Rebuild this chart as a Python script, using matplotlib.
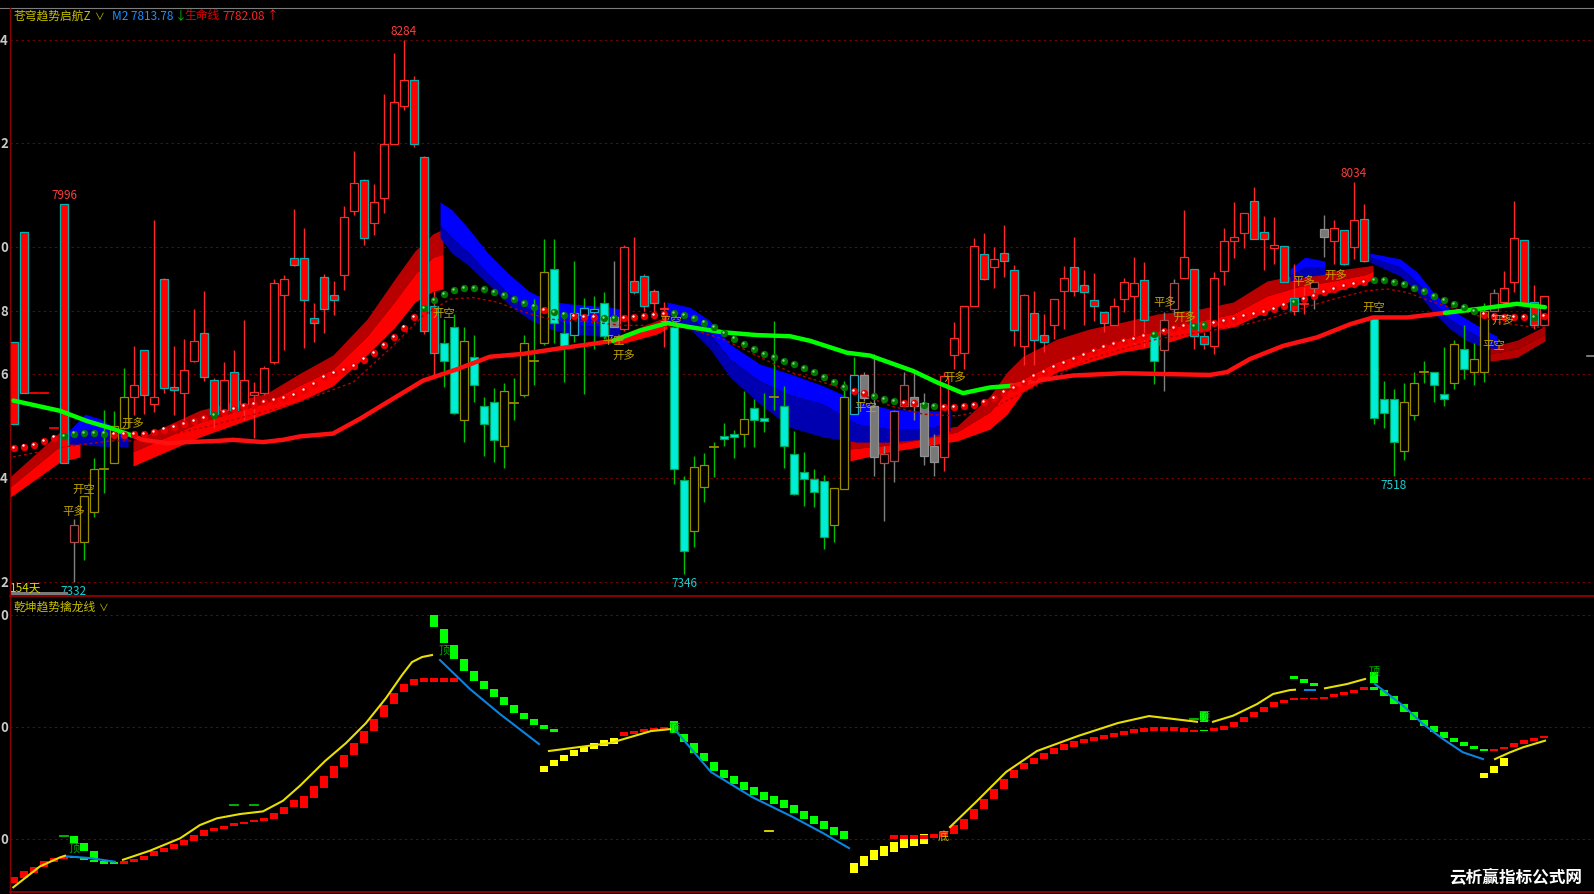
import matplotlib
matplotlib.use("Agg")
import matplotlib.pyplot as plt
from matplotlib.patches import Rectangle
from matplotlib.lines import Line2D
from matplotlib.transforms import offset_copy

plt.rcParams['font.family'] = ['Noto Sans CJK SC', 'DejaVu Sans']
plt.rcParams['axes.unicode_minus'] = False

# ------------------------------------------------------------------ data
OPEN = [7752, 7947, 7664, 7664, 7602, 7996, 7401, 7401, 7455, 7530,
        7540, 7602, 7656, 7739, 7644, 7864, 7673, 7663, 7720, 7768,
        7686, 7633, 7701, 7644, 7660, 7663, 7717, 7836, 7901, 7901,
        7795, 7867, 7835, 7870, 7983, 8038, 7962, 8006, 8101, 8168,
        8213, 8078, 7816, 7751, 7780, 7615, 7727, 7641, 7647, 7570,
        7646, 7660, 7720, 7751, 7881, 7768, 7765, 7800, 7805, 7822,
        7797, 7775, 7860, 7868, 7842, 7810, 7780, 7511, 7420, 7498,
        7568, 7588, 7591, 7591, 7637, 7620, 7656, 7641, 7556, 7525,
        7513, 7509, 7431, 7494, 7627, 7695, 7641, 7540, 7544, 7641,
        7657, 7646, 7571, 7550, 7730, 7734, 7817, 7907, 7884, 7910,
        7879, 7745, 7803, 7765, 7782, 7843, 7884, 7853, 7826, 7805,
        7782, 7829, 7833, 7862, 7764, 7738, 7811, 7866, 7881, 7764,
        7746, 7878, 7931, 7944, 8001, 7947, 7918, 7921, 7830, 7819,
        7847, 7951, 7931, 7950, 7919, 7969, 7796, 7653, 7653, 7562,
        7624, 7701, 7701, 7662, 7681, 7741, 7700, 7701, 7808, 7823,
        7859, 7932, 7823, 7782]
HIGH = [7752, 7947, 7665, 7665, 7603, 7996, 7442, 7482, 7549, 7634,
        7632, 7708, 7746, 7739, 7967, 7866, 7746, 7758, 7810, 7842,
        7690, 7717, 7738, 7792, 7682, 7710, 7863, 7870, 7986, 7953,
        7822, 7873, 7860, 7992, 8089, 8040, 8030, 8188, 8261, 8284,
        8220, 8080, 7843, 7793, 7802, 7780, 7766, 7656, 7672, 7681,
        7689, 7765, 7829, 7933, 7933, 7805, 7896, 7830, 7834, 7840,
        7896, 7923, 7937, 7872, 7846, 7823, 7786, 7518, 7553, 7558,
        7578, 7611, 7598, 7667, 7653, 7664, 7790, 7676, 7597, 7559,
        7530, 7519, 7496, 7685, 7726, 7700, 7732, 7571, 7634, 7701,
        7700, 7663, 7591, 7700, 7788, 7816, 7935, 7944, 7919, 7958,
        7888, 7837, 7843, 7802, 7829, 7887, 7938, 7880, 7874, 7805,
        7830, 7866, 7902, 7893, 7773, 7805, 7863, 7984, 7881, 7770,
        7875, 7953, 7998, 7980, 8026, 7974, 7972, 7921, 7890, 7849,
        7858, 7976, 7967, 7950, 8034, 7996, 7796, 7685, 7671, 7681,
        7700, 7720, 7701, 7744, 7756, 7782, 7751, 7822, 7846, 7878,
        8000, 7932, 7853, 7833]
LOW = [7609, 7663, 7663, 7663, 7601, 7541, 7332, 7369, 7445, 7488,
       7540, 7600, 7625, 7627, 7630, 7663, 7625, 7603, 7718, 7684,
       7602, 7630, 7628, 7615, 7584, 7660, 7715, 7739, 7886, 7742,
       7752, 7768, 7800, 7844, 7976, 7924, 7941, 7979, 8100, 8160,
       8095, 7767, 7691, 7674, 7627, 7578, 7647, 7553, 7542, 7532,
       7616, 7656, 7677, 7748, 7751, 7683, 7753, 7661, 7741, 7758,
       7779, 7772, 7838, 7808, 7802, 7744, 7503, 7346, 7393, 7471,
       7516, 7571, 7549, 7569, 7569, 7595, 7634, 7532, 7484, 7465,
       7463, 7389, 7401, 7494, 7627, 7650, 7518, 7439, 7507, 7641,
       7615, 7536, 7518, 7527, 7705, 7705, 7817, 7861, 7847, 7867,
       7746, 7713, 7713, 7735, 7759, 7776, 7834, 7782, 7790, 7771,
       7782, 7805, 7746, 7744, 7679, 7666, 7800, 7866, 7741, 7740,
       7732, 7853, 7900, 7918, 7933, 7880, 7890, 7859, 7800, 7802,
       7811, 7902, 7890, 7888, 7899, 7894, 7609, 7602, 7518, 7545,
       7615, 7681, 7647, 7641, 7671, 7687, 7677, 7682, 7808, 7814,
       7840, 7818, 7776, 7782]
CLOSE = [7609, 7663, 7664, 7664, 7602, 7541, 7431, 7482, 7530, 7530,
         7605, 7656, 7677, 7660, 7656, 7672, 7669, 7703, 7754, 7691,
         7627, 7686, 7633, 7686, 7665, 7707, 7856, 7864, 7889, 7826,
         7787, 7811, 7826, 7972, 8033, 7935, 7999, 8101, 8175, 8213,
         8100, 7773, 7734, 7720, 7629, 7754, 7677, 7609, 7581, 7667,
         7646, 7751, 7720, 7876, 7786, 7746, 7804, 7812, 7811, 7764,
         7779, 7919, 7841, 7816, 7822, 7813, 7529, 7386, 7533, 7536,
         7568, 7582, 7586, 7618, 7616, 7614, 7656, 7570, 7486, 7513,
         7490, 7411, 7496, 7656, 7695, 7654, 7550, 7556, 7631, 7677,
         7640, 7553, 7542, 7694, 7760, 7816, 7921, 7864, 7898, 7896,
         7774, 7835, 7757, 7753, 7829, 7866, 7843, 7841, 7817, 7786,
         7817, 7859, 7856, 7792, 7720, 7792, 7856, 7902, 7763, 7749,
         7866, 7931, 7937, 7980, 7933, 7933, 7923, 7859, 7808, 7819,
         7858, 7938, 7954, 7890, 7968, 7896, 7620, 7629, 7578, 7647,
         7681, 7701, 7677, 7653, 7749, 7705, 7723, 7808, 7839, 7847,
         7935, 7820, 7782, 7833]
# candle colouring state (U bull-up hollow red, D bull-down solid red,
# c bear-down cyan, o bear-up hollow, b hollow blue, G grey solid, g grey hollow)
STYLE = ("DDDDDDgooo" "ooUDUDDUUD" "DUDUUUUUDD" "DDDUUDUUUU" "DDDccoccco"
         "ooooccbbbc" "GUDDDUccoo" "occoccoccc" "ccoobGGggg" "GGGUUUUDUD"
         "DUDDUUDDDD" "UUUDcggUDD" "UUUUDDUDDU" "gGUDUDccco" "ooccocoogU" "UDDU")

# signal balls (one per bar) and their colour
BALL = [7567, 7569, 7572, 7579, 7585, 7588, 7592, 7593, 7593, 7592,
        7590, 7590, 7591, 7591, 7595, 7599, 7604, 7608, 7614, 7619,
        7625, 7630, 7635, 7640, 7643, 7647, 7650, 7654, 7660, 7669,
        7679, 7691, 7698, 7704, 7711, 7722, 7734, 7748, 7762, 7778,
        7796, 7812, 7826, 7837, 7844, 7848, 7847, 7846, 7841, 7835,
        7828, 7821, 7815, 7809, 7805, 7801, 7799, 7797, 7796, 7795,
        7795, 7795, 7797, 7798, 7800, 7802, 7803, 7800, 7795, 7787,
        7779, 7769, 7759, 7749, 7741, 7732, 7727, 7720, 7714, 7707,
        7700, 7691, 7683, 7674, 7667, 7663, 7658, 7653, 7649, 7646,
        7645, 7643, 7640, 7639, 7638, 7640, 7642, 7647, 7654, 7664,
        7672, 7683, 7692, 7700, 7709, 7716, 7723, 7730, 7737, 7744,
        7749, 7754, 7758, 7763, 7767, 7772, 7777, 7781, 7781, 7783,
        7786, 7790, 7793, 7798, 7802, 7806, 7811, 7817, 7823, 7828,
        7834, 7841, 7846, 7851, 7855, 7858, 7861, 7861, 7858, 7854,
        7848, 7842, 7834, 7827, 7819, 7814, 7807, 7801, 7799, 7796,
        7796, 7796, 7796, 7798]
BALL_COL = ("rrrrrggggg" "rrrrrrrrrr" "grrrrrrrrr" "rrrrrrrrrr" "rggggggggg"
            "gggrggrrrg" "grrrrrgggg" "gggggggggg" "ggggrrgggr" "rggrrrrrrr"
            "rrrrrrrrrr" "rrrrgrrrgg" "rrrrrrrrgr" "rrrrrrgggg" "gggggggrrr" "rrgr")

# thick trend line (生命线), read points with colour state
LIFE_IDX = [-0.07, 4.6, 7.3, 9.6, 11.9,
            12.9, 15.3, 17.3, 20.3, 21.9, 24.9, 26.9, 28.6, 31.9, 34.6, 37.6, 40.9,
            44.3, 47.6, 50.9, 54.3, 57.6, 59.9,
            62.6, 65.3, 67.6, 70.9, 74.3, 77.6, 79.6, 83.3, 85.6, 89.9, 92.3, 94.9, 97.6, 99.8,
            102.3, 105.9, 110.9, 119.6, 121.3, 123.6, 126.9, 130.3, 133.6, 135.9, 139.3, 143.1,
            146.9, 150.3, 153.1]
LIFE_VAL = [7650, 7632, 7614, 7602, 7588,
            7581, 7575, 7577, 7579, 7581, 7577, 7581, 7587, 7592, 7618, 7650, 7685,
            7705, 7727, 7732, 7741, 7749, 7755,
            7773, 7786, 7779, 7770, 7765, 7763, 7755, 7734, 7729, 7702, 7682, 7663, 7673, 7676,
            7685, 7694, 7698, 7695, 7700, 7723, 7746, 7761, 7784, 7796, 7796, 7804,
            7812, 7820, 7814]
LIFE_COL = "ggggg" + "r" * 18 + "g" * 14 + "r" * 12 + "ggg"

# thin dashed average
DASH_IDX = [-0.1, 5.6, 9.6, 12.9, 19, 28, 33.9, 37.6, 40.9, 43.6, 45.9, 48.3, 50.9,
            53.6, 57.6, 60.9, 64.3, 67.6, 70.9, 74.3, 77.6, 80.9, 84.3, 87.6, 90.9,
            94.3, 97.6, 100.9, 104.3, 107.6, 110.9, 114.3, 119.6, 121.9, 125.3, 128.6,
            131.9, 135.3, 137.3, 139.3, 141.9, 145.3, 148.6, 151.9, 153.3]
DASH_VAL = [7551, 7570, 7579, 7579, 7603, 7644, 7682, 7741, 7799, 7828, 7831, 7823, 7806,
            7793, 7788, 7782, 7782, 7776, 7758, 7729, 7700, 7682, 7664, 7641, 7626,
            7623, 7635, 7664, 7694, 7723, 7741, 7758, 7773, 7779, 7793, 7811,
            7828, 7843, 7846, 7840, 7823, 7805, 7787, 7779, 7779]

# ribbon segments: kind, x (bar index), top / middle / bottom edges
RIB_KIND = ['red', 'red', 'red', 'red', 'dred', 'blue', 'blue', 'blue', 'blue', 'blue']
RIB_IDX = [[-0.4, 4.6, 6.6],
           [11.9, 18.6, 25.3, 28.6, 31.9, 35.3, 38.1, 40.1, 41.9, 42.9],
           [59.8, 60.6, 64.3, 65.3],
           [83.6, 87.6, 92.6, 94.3, 97.6, 99.3, 100.9, 104.3, 107.6, 110.9, 114.3, 118.6,
            121.9, 125.3, 128.6, 131.9, 135.3, 135.9],
           [147.6, 150.3, 153.1],
           [5.4, 7.1, 8.6, 11.4],
           [42.6, 43.8, 45.4, 47.4, 49.4, 51.5, 53.5, 55.5, 59.6, 60.6],
           [65.3, 67.6, 69.6, 71.6, 74.6, 77.6, 80.9, 84.3, 87.6, 90.6, 93.6],
           [127.6, 129.1, 131.1],
           [135.6, 138.6, 140.3, 141.9, 143.6, 145.3, 146.9, 148.3]]
RIB_TOP = [[7516, 7595, 7596],
           [7579, 7633, 7663, 7698, 7730, 7793, 7864, 7913, 7943, 7951],
           [7758, 7765, 7791, 7797],
           [7582, 7586, 7600, 7605, 7658, 7700, 7728, 7758, 7776, 7788, 7802, 7811,
            7823, 7860, 7872, 7878, 7886, 7888],
           [7744, 7756, 7781],
           [7595, 7626, 7618, 7588],
           [7999, 7985, 7953, 7909, 7874, 7842, 7825, 7820, 7814, 7811],
           [7823, 7814, 7790, 7749, 7714, 7697, 7676, 7649, 7635, 7632, 7632],
           [7881, 7902, 7895],
           [7909, 7899, 7876, 7841, 7811, 7793, 7776, 7763]]
RIB_MID = [[7498, 7570, 7574],
           [7560, 7612, 7647, 7677, 7705, 7763, 7825, 7872, 7902, 7907],
           [7755, 7758, 7781, 7788],
           [7565, 7572, 7588, 7595, 7630, 7667, 7688, 7718, 7737, 7758, 7772, 7790,
            7802, 7834, 7851, 7860, 7872, 7878],
           [7732, 7741, 7767],
           [7585, 7600, 7595, 7578],
           [7958, 7936, 7911, 7874, 7839, 7811, 7793, 7785, 7779, 7776],
           [7807, 7797, 7767, 7723, 7684, 7660, 7644, 7609, 7600, 7600, 7609],
           [7870, 7885, 7884],
           [7902, 7885, 7858, 7823, 7793, 7774, 7758, 7749]]
RIB_BOT = [[7480, 7542, 7551],
           [7535, 7586, 7628, 7649, 7676, 7730, 7779, 7823, 7842, 7846],
           [7751, 7749, 7767, 7776],
           [7544, 7560, 7574, 7579, 7600, 7626, 7665, 7700, 7718, 7735, 7746, 7770,
            7779, 7807, 7832, 7841, 7858, 7864],
           [7719, 7726, 7755],
           [7574, 7572, 7570, 7568],
           [7936, 7909, 7888, 7855, 7820, 7793, 7776, 7767, 7762, 7756],
           [7790, 7776, 7741, 7691, 7644, 7603, 7586, 7577, 7577, 7582, 7596],
           [7860, 7867, 7872],
           [7893, 7869, 7841, 7806, 7776, 7755, 7744, 7741]]

# trade signal texts
SIG_IDX = [6.0, 7.0, 11.9, 43.0, 60.0, 61.0, 65.7, 85.2, 94.1, 115.1, 117.1, 129.0, 132.2, 136.0, 148.0, 148.9]
SIG_VAL = [7456, 7495, 7611, 7804, 7757, 7730, 7791, 7639, 7693, 7823, 7797, 7860, 7872, 7814, 7748, 7793]
SIG_TXT = ['平多', '开空', '开多', '开空', '平空', '开多', '平空', '平空', '开多', '平多', '开多',
           '平多', '开多', '开空', '平空', '开多']

# extreme price labels
EXT_BAR = [39, 5, 134, 67, 6, 138]
EXT_VAL = [8284, 7996, 8034, 7346, 7332, 7518]
EXT_IS_HIGH = [True, True, True, False, False, False]

MAIN_GRID = [8284, 8102, 7920, 7808, 7696, 7514, 7332]
LOW_GRID = [7900, 7800, 7700]

# lower panel (乾坤趋势擒龙线) blocks, one per bar
BLK_TOP = [7666, 7671, 7675, 7680, 7683, 7684.5, 7703, 7696.5, 7689, 7680.5,
           7679, 7680, 7682, 7685, 7689, 7692, 7695.4, 7699, 7703.5, 7708,
           7709.4, 7711.8, 7714, 7715.4, 7717, 7718.8, 7723, 7728.3, 7735, 7738.3,
           7747, 7756, 7765, 7775, 7785.6, 7796, 7807, 7819.5, 7830.3, 7838.3,
           7842.8, 7843.7, 7900, 7887.4, 7873, 7860.6, 7850, 7841, 7834, 7826.7,
           7819.5, 7812.4, 7807, 7801.7, 7798, 7775, 7779.4, 7783, 7785.6, 7788.3,
           7790, 7795.5, 7796.3, 7798, 7799, 7800, 7805.3, 7793.6, 7785.6, 7776.7,
           7768.6, 7761.5, 7756, 7750.8, 7746.3, 7741.9, 7738.3, 7734.7, 7730.2, 7724.8,
           7720.4, 7716, 7710.6, 7707, 7678.6, 7684.7, 7690, 7693.6, 7697.2, 7700.8,
           7702.6, 7704.4, 7704, 7707, 7712, 7717.7, 7726.7, 7735.6, 7744.5, 7753.5,
           7761.5, 7767.8, 7772.2, 7776.7, 7781.2, 7784.7, 7787.4, 7789.2, 7791, 7792.8,
           7794.5, 7796.3, 7798, 7799, 7800, 7800, 7800, 7799, 7797.5, 7814.4,
           7798.7, 7801, 7804.1, 7808.6, 7813.6, 7818, 7822, 7824.3, 7825.5, 7825.8,
           7826.1, 7827, 7829.4, 7831, 7833.2, 7835.9, 7849.3, 7833.2, 7827.9, 7820.4,
           7813, 7806.4, 7800.5, 7795.2, 7789.8, 7786.2, 7782.7, 7780.3, 7780.3, 7781.8,
           7785.6, 7788.6, 7790, 7791.9]
BLK_BOT = [7661, 7665, 7670, 7675, 7679, 7682, 7696, 7689, 7683, 7678,
           7677.6, 7677.6, 7679, 7681.4, 7684.5, 7688, 7691, 7694.5, 7698, 7703,
           7707.3, 7708.8, 7711.3, 7713, 7715, 7716, 7717.9, 7722.3, 7728.3, 7727.6,
           7736.5, 7745.4, 7754.4, 7764.2, 7775, 7785.6, 7796, 7808.8, 7820.4, 7831.2,
           7837.4, 7840, 7889.2, 7874.9, 7860.6, 7850, 7841, 7834, 7826.7, 7819.5,
           7812.4, 7807, 7801.7, 7798.1, 7795.5, 7769.5, 7774, 7777.6, 7780.3, 7783,
           7784.7, 7792, 7793.7, 7795.5, 7796.3, 7797.2, 7794.5, 7786.5, 7776.7, 7769.5,
           7760.6, 7754.4, 7749, 7743.6, 7739.2, 7734.7, 7731.1, 7727.6, 7723.1, 7717.7,
           7713.3, 7708.8, 7703.5, 7700, 7669.6, 7675.8, 7681.2, 7684.7, 7688.3, 7691.9,
           7693.6, 7695.4, 7701, 7702, 7704, 7708.8, 7717.7, 7726.7, 7735.6, 7744.5,
           7754.4, 7762.4, 7766.9, 7771.3, 7775.8, 7779.4, 7782, 7785.6, 7787.4, 7789.2,
           7791, 7792.8, 7794.5, 7795.4, 7796.3, 7796.3, 7796.3, 7795.4, 7795.7, 7804.6,
           7796.6, 7797.5, 7800.2, 7804.1, 7808.6, 7813, 7817.5, 7821.3, 7824, 7824.6,
           7825.2, 7825, 7826.4, 7828.5, 7830.5, 7832.9, 7839.2, 7827.9, 7820.4, 7813,
           7806.4, 7800.5, 7795.2, 7789.8, 7786.2, 7782.7, 7780.3, 7778.8, 7778.8, 7780.3,
           7781.8, 7784.7, 7787.6, 7789.8]
BLK_COL = ("rrrrrrgggg" "grrrrrrrrr" "rrrrrrrrrr" "rrrrrrrrrr" "rrgggggggg"
           "gggggyyyyy" "yrrrrrgggg" "gggggggggg" "ggggyyyyyy" "yyrrrrrrrr"
           "rrrrrrrrrr" "rrrrrrrrrg" "rrrrrrrrrr" "rrrrrrgggg" "ggggggggrr" "rrrr")
# secondary blocks
XB_IDX = [6, 7, 8, 42, 43, 44, 53, 54, 88, 89, 90, 91, 119, 128, 129, 130, 136, 147, 148, 149]
XB_TOP = [7684.5, 7684, 7681.4, 7843.7, 7843.7, 7843.7, 7765, 7770.5, 7703.5, 7703.5, 7703.5,
          7703.5, 7797.5, 7845.2, 7842.8, 7839.2, 7835.6, 7758.6, 7765.3, 7772.2]
XB_BOT = [7683, 7681.4, 7679.6, 7840, 7840, 7840, 7759.7, 7765, 7700, 7700, 7700,
          7700, 7796.6, 7842.8, 7839.2, 7836.3, 7833.2, 7754.4, 7758.6, 7764.8]
XB_COL = "gggrrryyrrrrgggggyyy"

# lower panel lines (segments)
LL_COLOR = ['y', 'b', 'y', 'b', 'y', 'b', 'y', 'y', 'b', 'y', 'b', 'y']
LL_IDX = [[-0.07, 2.6, 4.6, 5.1],
          [5.3, 7.6, 10.1],
          [10.9, 13.6, 16.6, 18.6, 20.3, 22.6, 24.9, 26.9, 28.6, 31.1, 33.2, 35.2, 37.2,
           38.8, 39.8, 40.8, 41.8],
          [42.6, 45.6, 48.6, 52.5],
          [53.5, 59.6, 63.7, 65.7],
          [66.2, 69.7, 73.8, 77.9, 80.9, 83.5],
          [93.6, 96.2, 99.2, 102.3, 106.4, 110.4, 113.5, 118.3],
          [119.9, 121.9, 124.3, 125.9, 127.6, 128.1],
          [129.1, 130.1],
          [131.1, 133.3, 135.1],
          [136.1, 138.9, 140.9, 142.9, 144.9, 146.9],
          [148.1, 149.6, 150.9, 153.1]]
LL_VAL = [[7656.8, 7675.5, 7683.5, 7685],
          [7684.4, 7682.9, 7679.6],
          [7681.4, 7689.5, 7700.5, 7712.4, 7718.4, 7722.2, 7724.6, 7734.1, 7747.5, 7769.5,
           7785.6, 7803.5, 7825.8, 7846.3, 7857.9, 7862.4, 7864.2],
          [7859.7, 7833.8, 7811.5, 7784.7],
          [7778.5, 7785.6, 7796.3, 7798.1],
          [7796.3, 7759.7, 7737.4, 7719.5, 7705.2, 7691.8],
          [7710.6, 7733, 7759.7, 7778.5, 7791.9, 7803.5, 7809.7, 7804.6],
          [7804.6, 7810, 7820.4, 7829.4, 7832.9, 7833.2],
          [7833.2, 7833.2],
          [7834.5, 7838.3, 7842.8],
          [7838.3, 7819, 7802.6, 7789.2, 7777.3, 7771.3],
          [7771.3, 7777.3, 7781.8, 7787.7]]
# short marks
MK_IDX = [5, 22, 24, 118, 75.5]
MK_VAL = [7703, 7730.5, 7730.5, 7807, 7707]
MK_COL = "ggggy"
# top / bottom words
TB_IDX = [6, 43, 66, 92.9, 119, 136]
TB_VAL = [7692, 7868.7, 7799, 7703.5, 7810, 7850]
TB_TXT = ['顶', '顶', '顶', '底', '顶', '顶']

assert len(OPEN) == len(HIGH) == len(LOW) == len(CLOSE) == len(STYLE) == 154
assert len(BALL) == len(BALL_COL) == 154
assert len(BLK_TOP) == len(BLK_BOT) == len(BLK_COL) == 154
assert len(LIFE_IDX) == len(LIFE_VAL) == len(LIFE_COL)

# ------------------------------------------------------------------ figure
W, H = 1594, 895
fig = plt.figure(figsize=(W / 100, H / 100), dpi=100, facecolor='black')


def fx(x):
    return x / W


def fy(y):
    return 1 - y / H


ax = fig.add_axes([fx(10), fy(597), (W - 10) / W, (597 - 9) / H])
ax2 = fig.add_axes([fx(10), fy(893), (W - 10) / W, (893 - 597) / H])
for a in (ax, ax2):
    a.set_facecolor('black')
    a.set_xlim(-0.4, 158.0)
    a.axis('off')
ax.set_ylim(7306.6, 8339.7)
ax2.set_ylim(7652.6, 7916.9)

GRIDC = '#7a0000'
for g in MAIN_GRID:
    ax.axhline(g, color=GRIDC, lw=0.8, ls=(0, (2, 3)), zorder=0)
for g in LOW_GRID:
    ax2.axhline(g, color=GRIDC, lw=0.8, ls=(0, (2, 3)), zorder=0)

# ribbons
RCOL = {'red': ('#b80000', '#ff0000'), 'dred': ('#a80000', '#b80000'),
        'blue': ('#0000ff', '#0000b0')}
for kind, xs, tp, md, bt in zip(RIB_KIND, RIB_IDX, RIB_TOP, RIB_MID, RIB_BOT):
    up, lo = RCOL[kind]
    ax.fill_between(xs, md, tp, color=up, lw=0, zorder=1)
    ax.fill_between(xs, bt, md, color=lo, lw=0, zorder=1)

# candles
SMAP = {
    'U': ('black', '#ff2828', '#ff2828'),
    'D': ('#ff0000', '#00b4b4', '#ff2828'),
    'c': ('#00eed8', '#00a060', '#00c000'),
    'o': ('black', '#9a8a00', '#00c000'),
    'b': ('black', '#20a8d0', '#00c000'),
    'G': ('#787878', '#909090', '#808080'),
    'g': ('black', '#b04848', '#808080'),
}
for i in range(154):
    o, h, l, c = OPEN[i], HIGH[i], LOW[i], CLOSE[i]
    face, edge, wick = SMAP[STYLE[i]]
    ax.plot([i, i], [l, h], color=wick, lw=1.0, zorder=3, solid_capstyle='butt')
    if abs(c - o) < 1:
        ax.plot([i - 0.4, i + 0.4], [o, o], color=edge if face == 'black' else face,
                lw=1.3, zorder=4)
    else:
        ax.add_patch(Rectangle((i - 0.4, min(o, c)), 0.8, abs(c - o), facecolor=face,
                               edgecolor=edge, lw=0.9, zorder=4))

# thick trend line
runs = []
cur = None
for k in range(len(LIFE_IDX)):
    col = LIFE_COL[k]
    if cur is None or col != cur[0]:
        newrun = [col, [], []]
        if cur is not None:
            newrun[1].append(cur[1][-1])
            newrun[2].append(cur[2][-1])
        runs.append(newrun)
        cur = newrun
    cur[1].append(LIFE_IDX[k])
    cur[2].append(LIFE_VAL[k])
for col, xs, ys in runs:
    ax.plot(xs, ys, color='#00ff00' if col == 'g' else '#ff1010', lw=3.2,
            solid_capstyle='round', solid_joinstyle='round', zorder=6)

# dashed average
ax.plot(DASH_IDX, DASH_VAL, color='#b00000', lw=1.0, ls=(0, (2, 2)), zorder=5)

# balls
rx = [i for i in range(154) if BALL_COL[i] == 'r']
gx = [i for i in range(154) if BALL_COL[i] == 'g']
hl = offset_copy(ax.transData, fig=fig, x=-1.2, y=1.2, units='dots')
ax.scatter(rx, [BALL[i] for i in rx], s=28, c='#e80000', lw=0, zorder=7)
ax.scatter(gx, [BALL[i] for i in gx], s=28, c='#007800', lw=0, zorder=7)
ax.scatter(rx, [BALL[i] for i in rx], s=3, c='white', lw=0, zorder=8, transform=hl)
ax.scatter(gx, [BALL[i] for i in gx], s=3, c='#8fd08f', lw=0, zorder=8, transform=hl)

# signal texts
for i, v, t in zip(SIG_IDX, SIG_VAL, SIG_TXT):
    ax.text(i, v, t, color='#c0a400', fontsize=8.2, ha='center', va='center', zorder=9)

# extreme labels
for i, v, hi in zip(EXT_BAR, EXT_VAL, EXT_IS_HIGH):
    if hi:
        ax.annotate(str(v), (i, v), xytext=(0, 2), textcoords='offset points',
                    ha='center', va='bottom', color='#ff3c3c', fontsize=8.5, zorder=9)
    else:
        ax.annotate(str(v), (i, v), xytext=(0, -1.5), textcoords='offset points',
                    ha='center', va='top', color='#18d0d0', fontsize=8.5, zorder=9)

# lower panel blocks
BCOL = {'r': '#ff0000', 'g': '#00ff00', 'y': '#ffff00'}
for i in range(154):
    ax2.add_patch(Rectangle((i - 0.4, BLK_BOT[i]), 0.8, BLK_TOP[i] - BLK_BOT[i],
                            facecolor=BCOL[BLK_COL[i]], lw=0, zorder=3))
for i, t, b, c in zip(XB_IDX, XB_TOP, XB_BOT, XB_COL):
    ax2.add_patch(Rectangle((i - 0.4, b), 0.8, t - b, facecolor=BCOL[c], lw=0, zorder=3))
for col, xs, ys in zip(LL_COLOR, LL_IDX, LL_VAL):
    ax2.plot(xs, ys, color='#e8e000' if col == 'y' else '#0a84e0', lw=1.5, zorder=4)
for i, v, c in zip(MK_IDX, MK_VAL, MK_COL):
    ax2.plot([i - 0.4, i + 0.4], [v, v], color='#00c000' if c == 'g' else '#e8e000',
             lw=1.3, zorder=4)
for i, v, t in zip(TB_IDX, TB_VAL, TB_TXT):
    ax2.text(i, v, t, color='#00b000' if t == '顶' else '#c8c000', fontsize=8,
             ha='center', va='center', zorder=5)

# ------------------------------------------------------------------ frame & texts
def hline(y, x0, x1, color, lw):
    fig.add_artist(Line2D([fx(x0), fx(x1)], [fy(y), fy(y)], color=color, lw=lw,
                          transform=fig.transFigure))


def vline(x, y0, y1, color, lw):
    fig.add_artist(Line2D([fx(x), fx(x)], [fy(y0), fy(y1)], color=color, lw=lw,
                          transform=fig.transFigure))


hline(8.5, 0, W, '#7c7c7c', 0.8)
hline(597, 10, W, '#a00000', 1.2)
hline(893, 10, W, '#a00000', 1.2)
vline(10, 8.5, 895, '#8b0000', 1.0)
hline(357, 1587, W, '#909090', 1.2)
fig.add_artist(Rectangle((fx(10), fy(595.5)), (68 - 10) / W, 2.5 / H,
                         transform=fig.transFigure, facecolor='#7a7a7a', lw=0))

# axis digits (the rest of each label is cut off at the left edge)
for g in MAIN_GRID:
    yp = (8339.7 - g) / (8339.7 - 7306.6) * (597 - 9) + 9
    fig.text(fx(8), fy(yp), str(g)[-1], color='#c8c8c8', fontsize=9.5,
             ha='right', va='center', fontweight='bold')
for g in LOW_GRID:
    yp = (7916.9 - g) / (7916.9 - 7652.6) * (893 - 597) + 597
    fig.text(fx(8), fy(yp), str(g)[-1], color='#c8c8c8', fontsize=9.5,
             ha='right', va='center', fontweight='bold')

# header
fig.text(fx(14), fy(16), '苍穹趋势启航Z', color='#c8c000', fontsize=8.5, ha='left', va='center')
fig.text(fx(95), fy(17), '∨', color='#c8c000', fontsize=7, ha='left', va='center')
fig.text(fx(112), fy(16), 'M2 7813.78', color='#1e90ff', fontsize=8.5, ha='left', va='center')
fig.text(fx(175), fy(16), '↓', color='#00c000', fontsize=8.5, ha='left', va='center')
fig.text(fx(184), fy(16), '生命线', color='#e00000', fontsize=8.5, ha='left', va='center')
fig.text(fx(222), fy(16), '7782.08', color='#ff2020', fontsize=8.5, ha='left', va='center')
fig.text(fx(267), fy(16), '↑', color='#ff2020', fontsize=8.5, ha='left', va='center')

fig.text(fx(14), fy(607), '乾坤趋势擒龙线', color='#c8c000', fontsize=8.5, ha='left', va='center')
fig.text(fx(99), fy(608), '∨', color='#c8c000', fontsize=7, ha='left', va='center')

fig.text(fx(10), fy(588), '154天', color='#d8d800', fontsize=8.5, ha='left', va='center')

fig.text(fx(1516), fy(877), '云析赢指标公式网', color='white', fontsize=12,
         fontweight='bold', ha='center', va='center')

fig.savefig('out.png', dpi=100, facecolor='black')
